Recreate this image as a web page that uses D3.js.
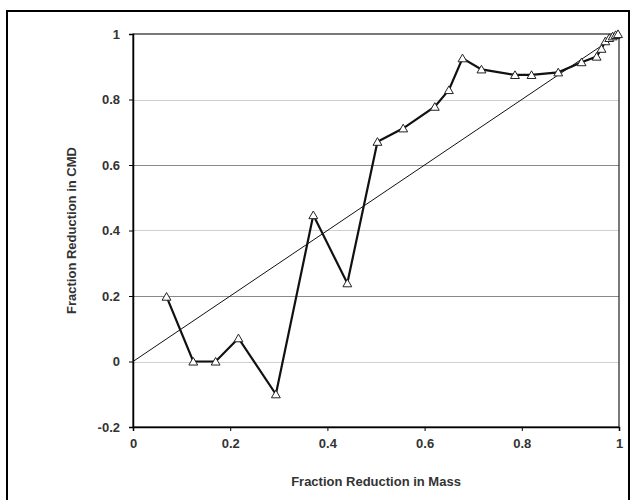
<!DOCTYPE html>
<html>
<head>
<meta charset="utf-8">
<script src="https://cdn.jsdelivr.net/npm/d3@7"></script>
<style>
  body { margin: 0; background: #fff; }
  text { font-family: "Liberation Sans", Arial, sans-serif; font-weight: bold; fill: #333; }
</style>
</head>
<body>
<div id="chart"></div>
<script>
var massReduction = [0.069, 0.124, 0.170, 0.217, 0.294, 0.371, 0.441, 0.503, 0.556, 0.621, 0.650, 0.678,
                     0.717, 0.786, 0.820, 0.875, 0.923, 0.954, 0.964, 0.972, 0.980, 0.987, 0.993, 0.998];
var cmdReduction  = [0.198, 0.0, 0.0, 0.071, -0.10, 0.447, 0.239, 0.671, 0.712, 0.778, 0.829, 0.926,
                     0.892, 0.875, 0.875, 0.883, 0.914, 0.931, 0.955, 0.978, 0.988, 0.993, 0.997, 1.0];
var parityLine = [0, 1];
var xTicks = [0, 0.2, 0.4, 0.6, 0.8, 1];
var yTicks = [-0.2, 0, 0.2, 0.4, 0.6, 0.8, 1];
var gridValues = [0, 0.2, 0.4, 0.6, 0.8];
var gridColors = ["#d0d0d0", "#8a8a8a", "#cfcfcf", "#8a8a8a", "#cfcfcf"];

var width = 633, height = 500;
var margin = {left: 133, right: 14, top: 34, bottom: 73};

var svg = d3.select("#chart").append("svg")
    .attr("width", width)
    .attr("height", height);

// outer chart frame
svg.append("rect")
    .attr("x", 7).attr("y", 11)
    .attr("width", 622).attr("height", 500)
    .attr("fill", "none")
    .attr("stroke", "#000")
    .attr("stroke-width", 2);

var x = d3.scaleLinear().domain([0, 1]).range([margin.left, width - margin.right]);
var y = d3.scaleLinear().domain([-0.2, 1]).range([height - margin.bottom, margin.top]);

// gridlines
svg.selectAll(".grid")
    .data(gridValues)
    .enter().append("line")
    .attr("x1", x(0)).attr("x2", x(1))
    .attr("y1", function(d) { return Math.round(y(d)) + 0.5; })
    .attr("y2", function(d) { return Math.round(y(d)) + 0.5; })
    .attr("stroke", function(d, i) { return gridColors[i]; })
    .attr("stroke-width", 1);

// plot area border
svg.append("rect")
    .attr("x", x(0)).attr("y", y(1))
    .attr("width", x(1) - x(0)).attr("height", y(-0.2) - y(1))
    .attr("fill", "none")
    .attr("stroke", "#222")
    .attr("stroke-width", 1.2);

function fmt(d) { return String(Math.round(d * 10) / 10); }

var xAxis = svg.append("g")
    .attr("transform", "translate(0," + y(-0.2) + ")")
    .call(d3.axisBottom(x).tickValues(xTicks).tickSize(4).tickPadding(8).tickFormat(fmt));
xAxis.select(".domain").attr("stroke", "#000").attr("stroke-width", 1.5);
xAxis.selectAll("text").style("font-size", "13px");

var yAxis = svg.append("g")
    .attr("transform", "translate(" + x(0) + ",0)")
    .call(d3.axisLeft(y).tickValues(yTicks).tickSize(4).tickPadding(9).tickFormat(fmt));
yAxis.select(".domain").attr("stroke", "#000").attr("stroke-width", 1.5);
yAxis.selectAll("text").style("font-size", "13px");

// y = x reference line
svg.append("path")
    .datum(parityLine)
    .attr("d", d3.line().x(function(d) { return x(d); }).y(function(d) { return y(d); }))
    .attr("stroke", "#111")
    .attr("stroke-width", 1)
    .attr("fill", "none");

var pts = massReduction.map(function(m, i) { return [m, cmdReduction[i]]; });

svg.append("path")
    .datum(pts)
    .attr("d", d3.line().x(function(d) { return x(d[0]); }).y(function(d) { return y(d[1]); }))
    .attr("stroke", "#111")
    .attr("stroke-width", 2.2)
    .attr("fill", "none");

var tri = d3.symbol().type(d3.symbolTriangle).size(34);
svg.selectAll(".pt")
    .data(pts)
    .enter().append("path")
    .attr("d", tri)
    .attr("transform", function(d) { return "translate(" + x(d[0]) + "," + (y(d[1]) + 1) + ")"; })
    .attr("fill", "#fff")
    .attr("stroke", "#222")
    .attr("stroke-width", 1);

svg.append("text")
    .attr("x", (x(0) + x(1)) / 2)
    .attr("y", 486)
    .attr("text-anchor", "middle")
    .style("font-size", "13px")
    .text("Fraction Reduction in Mass");

svg.append("text")
    .attr("transform", "translate(76," + y(0.4) + ") rotate(-90)")
    .attr("text-anchor", "middle")
    .style("font-size", "13px")
    .text("Fraction Reduction in CMD");
</script>
</body>
</html>
